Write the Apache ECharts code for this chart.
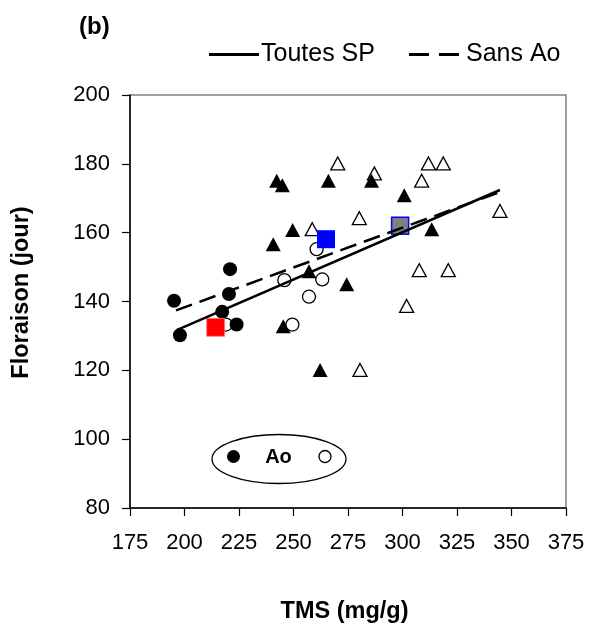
<!DOCTYPE html>
<html>
<head>
<meta charset="utf-8">
<script src="https://cdn.jsdelivr.net/npm/echarts@6/dist/echarts.min.js"></script>
<style>html,body{margin:0;padding:0;background:#fff}#c{width:597px;height:633px}</style>
</head>
<body>
<div id="c"></div>
<script>
// ---- data (TMS mg/g, Floraison jour) ----
const xTicks = [175, 200, 225, 250, 275, 300, 325, 350, 375];
const yTicks = [80, 100, 120, 140, 160, 180, 200];
const aoFilled = [[195.2,140.2],[197.9,130.2],[217.3,137.0],[220.4,142.2],[220.9,149.4],[223.9,133.3]];
const aoOpen = [[219.0,133.3],[245.8,146.2],[249.5,133.3],[257.1,141.4],[260.6,155.2],[263.2,146.4]];
const triFilled = [[240.7,156.6],[242.3,175.1],[244.9,173.8],[245.3,132.8],[249.6,160.8],[257.1,148.8],[262.2,120.1],[266.0,175.1],[274.4,145.0],[285.8,175.1],[300.8,170.9],[313.4,161.0]];
const triOpen = [[258.6,161.0],[270.3,180.1],[280.2,164.2],[280.5,120.1],[287.1,177.2],[301.9,138.7],[307.7,149.1],[308.8,175.1],[311.9,180.1],[318.7,180.1],[321.0,149.1],[344.7,166.3]];
const meanRed = [[214.3,132.5]];
const meanBlue = [[264.9,158.1]];
const meanGray = [[298.9,162.0]];
const lineAll = [[196.4,131.7],[344.7,172.4]];
const lineSansAo = [[196.1,137.4],[344.7,171.8]];
const seriesNames = ['Toutes SP', 'Sans Ao'];

const FONT = 'Liberation Sans, Arial, sans-serif';
const chart = echarts.init(document.getElementById('c'), null, {renderer: 'canvas'});
const openStyle = {color: '#fff', borderColor: '#000', borderWidth: 1.3, opacity: 1};
chart.setOption({
  animation: false,
  backgroundColor: '#fff',
  title: {text: '(b)', left: 74, top: 10, textStyle: {fontFamily: FONT, fontWeight: 'bold', fontSize: 24, color: '#000'}},
  legend: {
    top: 37, left: 204, itemGap: 34, itemWidth: 50, itemHeight: 3,
    data: [
      {name: seriesNames[0], icon: 'path://M0,0L50,0L50,3L0,3Z'},
      {name: seriesNames[1], icon: 'path://M0,0L20,0L20,3L0,3ZM30,0L50,0L50,3L30,3Z', textStyle: {padding: [0,0,0,2]}}
    ],
    itemStyle: {color: '#000', borderWidth: 0},
    textStyle: {fontFamily: FONT, fontSize: 25, color: '#000', padding: [0,0,0,-3]}
  },
  grid: {left: 130, right: 31, top: 95, bottom: 125, show: true, borderColor: '#808080', borderWidth: 1.5, backgroundColor: 'transparent'},
  xAxis: {
    type: 'value', min: xTicks[0], max: xTicks[xTicks.length-1], interval: 25,
    name: 'TMS (mg/g)', nameLocation: 'middle', nameGap: 92,
    nameTextStyle: {fontFamily: FONT, fontWeight: 'bold', fontSize: 23.5, color: '#000', padding: [0, 7, 0, 0]},
    axisLine: {show: true, lineStyle: {color: '#000', width: 1.5}},
    axisTick: {show: true, inside: false, length: 8, lineStyle: {color: '#000', width: 1.2}},
    axisLabel: {fontFamily: FONT, fontSize: 22, color: '#000', margin: 24},
    splitLine: {show: false}
  },
  yAxis: {
    type: 'value', min: yTicks[0], max: yTicks[yTicks.length-1], interval: 20,
    name: 'Floraison (jour)', nameLocation: 'middle', nameGap: 96, nameRotate: 90,
    nameTextStyle: {fontFamily: FONT, fontWeight: 'bold', fontSize: 23.5, color: '#000', padding: [0, 0, 0, 18]},
    axisLine: {show: true, lineStyle: {color: '#000', width: 1.5}},
    axisTick: {show: true, inside: false, length: 8, lineStyle: {color: '#000', width: 1.2}},
    axisLabel: {fontFamily: FONT, fontSize: 22, color: '#000', margin: 20},
    splitLine: {show: false}
  },
  series: [
    {type: 'scatter', data: triOpen, symbol: 'triangle', symbolSize: [14, 13], itemStyle: openStyle, z: 2},
    {type: 'scatter', data: triFilled, symbol: 'triangle', symbolSize: [15, 14], itemStyle: {color: '#000', opacity: 1}, z: 3},
    {type: 'scatter', data: aoOpen, symbol: 'circle', symbolSize: 13, itemStyle: openStyle, z: 4},
    {type: 'scatter', data: aoFilled, symbol: 'circle', symbolSize: 14, itemStyle: {color: '#000', opacity: 1}, z: 5},
    {type: 'scatter', data: meanRed, symbol: 'rect', symbolSize: 18, itemStyle: {color: '#ff0000', borderColor: '#ff8080', borderWidth: 0.8, opacity: 1}, z: 6},
    {type: 'scatter', data: meanBlue, symbol: 'rect', symbolSize: 18, itemStyle: {color: '#0000ff', opacity: 1}, z: 6},
    {type: 'scatter', data: meanGray, symbol: 'rect', symbolSize: 17, itemStyle: {color: '#808080', borderColor: '#0000ff', borderWidth: 1.5, opacity: 1}, z: 6},
    {name: seriesNames[0], type: 'line', data: lineAll, symbol: 'none', lineStyle: {color: '#000', width: 2.5, type: 'solid'}, itemStyle: {color: '#000'}, z: 8},
    {name: seriesNames[1], type: 'line', data: lineSansAo, symbol: 'none', lineStyle: {color: '#000', width: 2.5, type: [17, 8]}, itemStyle: {color: '#000'}, z: 8}
  ],
  graphic: [
    {type: 'ellipse', shape: {cx: 279, cy: 459, rx: 67, ry: 24.5}, style: {fill: 'none', stroke: '#000', lineWidth: 1.3}, z: 10},
    {type: 'circle', shape: {cx: 233.5, cy: 456.5, r: 6.5}, style: {fill: '#000'}, z: 10},
    {type: 'circle', shape: {cx: 325, cy: 456.5, r: 6}, style: {fill: '#fff', stroke: '#000', lineWidth: 1.3}, z: 10},
    {type: 'text', x: 278.5, y: 457.5, style: {text: 'Ao', fontFamily: FONT, fontWeight: 'bold', fontSize: 20, fill: '#000', textAlign: 'center', textVerticalAlign: 'middle'}, z: 10}
  ]
});
</script>
</body>
</html>
